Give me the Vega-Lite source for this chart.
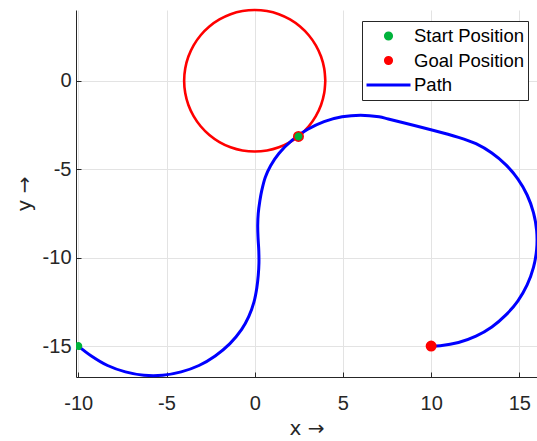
{
  "$schema": "https://vega.github.io/schema/vega-lite/v6.json",
  "width": 461,
  "height": 367,
  "autosize": {"type": "none"},
  "padding": {"left": 76, "top": 10, "right": 0, "bottom": 64},
  "background": "white",
  "config": {
    "view": {"stroke": null},
    "axis": {
      "domainColor": "#262626",
      "domainWidth": 1,
      "tickColor": "#262626",
      "tickSize": -5,
      "gridColor": "#e3e3e3",
      "gridWidth": 1,
      "labelFont": "Liberation Sans",
      "labelFontSize": 20,
      "labelColor": "#262626",
      "titleFont": "DejaVu Sans",
      "titleFontSize": 20,
      "titleColor": "#262626",
      "titleFontWeight": "normal"
    }
  },
  "datasets": {
    "circle": [
      {"i": 0, "x": 4, "y": 0}, {"i": 1, "x": 3.939, "y": 0.695}, {"i": 2, "x": 3.759, "y": 1.368},
      {"i": 3, "x": 3.464, "y": 2.0}, {"i": 4, "x": 3.064, "y": 2.571}, {"i": 5, "x": 2.571, "y": 3.064},
      {"i": 6, "x": 2.0, "y": 3.464}, {"i": 7, "x": 1.368, "y": 3.759}, {"i": 8, "x": 0.695, "y": 3.939},
      {"i": 9, "x": 0, "y": 4}, {"i": 10, "x": -0.695, "y": 3.939}, {"i": 11, "x": -1.368, "y": 3.759},
      {"i": 12, "x": -2.0, "y": 3.464}, {"i": 13, "x": -2.571, "y": 3.064}, {"i": 14, "x": -3.064, "y": 2.571},
      {"i": 15, "x": -3.464, "y": 2.0}, {"i": 16, "x": -3.759, "y": 1.368}, {"i": 17, "x": -3.939, "y": 0.695},
      {"i": 18, "x": -4, "y": 0}, {"i": 19, "x": -3.939, "y": -0.695}, {"i": 20, "x": -3.759, "y": -1.368},
      {"i": 21, "x": -3.464, "y": -2.0}, {"i": 22, "x": -3.064, "y": -2.571}, {"i": 23, "x": -2.571, "y": -3.064},
      {"i": 24, "x": -2.0, "y": -3.464}, {"i": 25, "x": -1.368, "y": -3.759}, {"i": 26, "x": -0.695, "y": -3.939},
      {"i": 27, "x": 0, "y": -4}, {"i": 28, "x": 0.695, "y": -3.939}, {"i": 29, "x": 1.368, "y": -3.759},
      {"i": 30, "x": 2.0, "y": -3.464}, {"i": 31, "x": 2.571, "y": -3.064}, {"i": 32, "x": 3.064, "y": -2.571},
      {"i": 33, "x": 3.464, "y": -2.0}, {"i": 34, "x": 3.759, "y": -1.368}, {"i": 35, "x": 3.939, "y": -0.695},
      {"i": 36, "x": 4, "y": 0}
    ],
    "path": [
      {"i": 1, "x": -10, "y": -15}, {"i": 2, "x": -9.26, "y": -15.56}, {"i": 3, "x": -8.34, "y": -16.10},
      {"i": 4, "x": -7.33, "y": -16.46}, {"i": 5, "x": -6.28, "y": -16.65}, {"i": 6, "x": -5.22, "y": -16.65},
      {"i": 7, "x": -4.17, "y": -16.46}, {"i": 8, "x": -3.16, "y": -16.10}, {"i": 9, "x": -2.24, "y": -15.56},
      {"i": 10, "x": -1.42, "y": -14.88}, {"i": 11, "x": -0.74, "y": -14.06}, {"i": 12, "x": -0.34, "y": -13.34},
      {"i": 13, "x": -0.04, "y": -12.5}, {"i": 14, "x": 0.12, "y": -11.7}, {"i": 15, "x": 0.2, "y": -11.0},
      {"i": 16, "x": 0.24, "y": -10.3}, {"i": 17, "x": 0.23, "y": -9.6}, {"i": 18, "x": 0.19, "y": -8.9},
      {"i": 19, "x": 0.17, "y": -8.2}, {"i": 20, "x": 0.2, "y": -7.5}, {"i": 21, "x": 0.29, "y": -6.8},
      {"i": 22, "x": 0.4, "y": -6.2}, {"i": 23, "x": 0.6, "y": -5.45}, {"i": 24, "x": 0.9, "y": -4.8},
      {"i": 25, "x": 1.37, "y": -4.11}, {"i": 26, "x": 2.11, "y": -3.37}, {"i": 27, "x": 2.98, "y": -2.76},
      {"i": 28, "x": 3.93, "y": -2.31}, {"i": 29, "x": 4.95, "y": -2.04}, {"i": 30, "x": 6.0, "y": -1.95},
      {"i": 31, "x": 7.05, "y": -2.04}, {"i": 32, "x": 7.57, "y": -2.16}, {"i": 33, "x": 11.55, "y": -3.20},
      {"i": 34, "x": 12.54, "y": -3.56}, {"i": 35, "x": 13.44, "y": -4.09}, {"i": 36, "x": 14.24, "y": -4.76},
      {"i": 37, "x": 14.92, "y": -5.56}, {"i": 38, "x": 15.44, "y": -6.46}, {"i": 39, "x": 15.80, "y": -7.45},
      {"i": 40, "x": 15.98, "y": -8.48}, {"i": 41, "x": 15.98, "y": -9.52}, {"i": 42, "x": 15.80, "y": -10.55},
      {"i": 43, "x": 15.44, "y": -11.54}, {"i": 44, "x": 14.92, "y": -12.44}, {"i": 45, "x": 14.24, "y": -13.24},
      {"i": 46, "x": 13.44, "y": -13.92}, {"i": 47, "x": 12.54, "y": -14.44}, {"i": 48, "x": 11.55, "y": -14.80},
      {"i": 49, "x": 10.52, "y": -14.98}, {"i": 50, "x": 10, "y": -15}
    ],
    "goal": [
      {"series": "Goal Position", "x": 10, "y": -15},
      {"series": "Goal Position", "x": 2.48, "y": -3.15}
    ],
    "start": [
      {"series": "Start Position", "x": -10, "y": -15},
      {"series": "Start Position", "x": 2.48, "y": -3.15}
    ]
  },
  "encoding": {
    "x": {
      "field": "x", "type": "quantitative",
      "scale": {"domain": [-10.13, 16.0], "nice": false, "zero": false},
      "axis": {"title": "x →", "values": [-10, -5, 0, 5, 10, 15], "labelExpr": "'' + datum.value", "labelPadding": 21, "titlePadding": 5}
    },
    "y": {
      "field": "y", "type": "quantitative",
      "scale": {"domain": [-16.75, 4.0], "nice": false, "zero": false},
      "axis": {"title": "y →", "values": [-15, -10, -5, 0], "labelExpr": "'' + datum.value", "labelPadding": 10, "titlePadding": 8}
    }
  },
  "layer": [
    {
      "data": {"name": "circle"},
      "mark": {"type": "line", "color": "#ff0000", "strokeWidth": 2.6, "clip": false, "interpolate": "catmull-rom"},
      "encoding": {"order": {"field": "i", "type": "quantitative"}}
    },
    {
      "data": {"name": "path"},
      "mark": {"type": "line", "color": "#0000ff", "strokeWidth": 3, "clip": false, "interpolate": "catmull-rom"},
      "encoding": {"order": {"field": "i", "type": "quantitative"}}
    },
    {
      "data": {"name": "goal"},
      "mark": {"type": "point", "filled": true, "size": 3265, "strokeWidth": 3, "opacity": 1, "clip": true},
      "encoding": {
        "color": {
          "field": "series", "type": "nominal",
          "scale": {"domain": ["Start Position", "Goal Position", "Path"], "range": ["#00b33c", "#ff0000", "#0000ff"]},
          "legend": {
            "title": null,
            "orient": "none",
            "legendX": 286,
            "legendY": 11,
            "symbolSize": 1936,
            "symbolStrokeWidth": 3,
            "clipHeight": 24,
            "rowPadding": 0.5,
            "padding": 3,
            "labelOffset": 2,
            "labelFont": "Liberation Sans",
            "labelFontSize": 18.5,
            "labelColor": "#000000",
            "labelLimit": 0,
            "strokeColor": "#262626",
            "fillColor": "#ffffff"
          }
        },
        "stroke": {
          "field": "series", "type": "nominal",
          "scale": {"domain": ["Start Position", "Goal Position", "Path"], "range": ["#00b33c", "#ff0000", "#0000ff"]}
        },
        "shape": {
          "field": "series", "type": "nominal",
          "scale": {"domain": ["Start Position", "Goal Position", "Path"], "range": ["M-0.14,0A0.14,0.14,0,1,0,0.14,0A0.14,0.14,0,1,0,-0.14,0Z", "M-0.14,0A0.14,0.14,0,1,0,0.14,0A0.14,0.14,0,1,0,-0.14,0Z", "stroke"]}
        }
      }
    },
    {
      "data": {"name": "start"},
      "mark": {"type": "point", "filled": true, "size": 1275, "strokeWidth": 3, "opacity": 1, "clip": true},
      "encoding": {
        "color": {"field": "series", "type": "nominal"},
        "stroke": {"field": "series", "type": "nominal"},
        "shape": {"field": "series", "type": "nominal"}
      }
    }
  ]
}
